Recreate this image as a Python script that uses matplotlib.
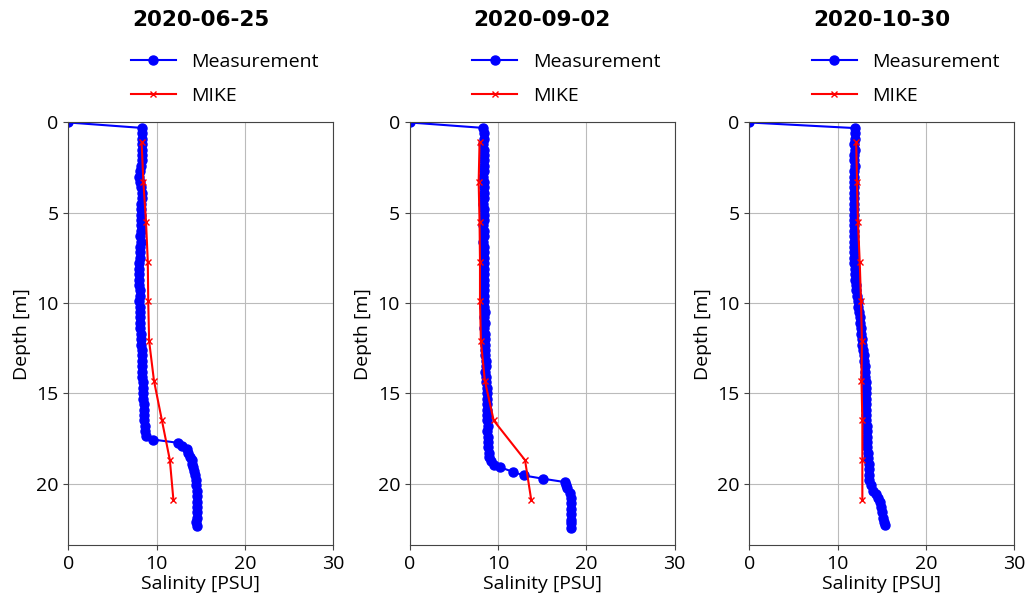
import matplotlib
matplotlib.use("Agg")
import matplotlib.pyplot as plt

plt.rcParams['font.family'] = ['Open Sans', 'DejaVu Sans']

dates = ["2020-06-25", "2020-09-02", "2020-10-30"]

# measurement profiles (depth [m], salinity [PSU])
meas_depth_1 = [0.0, 0.3, 0.6, 0.9, 1.2, 1.5, 1.8, 2.1, 2.4, 2.7, 3.0, 3.3, 3.6, 3.9, 4.2, 4.5,
                4.8, 5.1, 5.4, 5.7, 6.0, 6.3, 6.6, 6.9, 7.2, 7.5, 7.8, 8.1, 8.4, 8.7, 9.0, 9.3,
                9.6, 9.9, 10.2, 10.5, 10.8, 11.1, 11.4, 11.7, 12.0, 12.3, 12.6, 12.9, 13.2, 13.5,
                13.8, 14.1, 14.4, 14.7, 15.0, 15.3, 15.6, 15.9, 16.2, 16.5, 16.8, 17.1, 17.35,
                17.56, 17.74, 17.9, 18.1, 18.3, 18.5, 18.7, 18.9, 19.1, 19.3, 19.5, 19.8, 20.1,
                20.4, 20.7, 21.0, 21.3, 21.6, 21.9, 22.1, 22.36]
meas_sal_1 = [0.0, 8.3, 8.35, 8.3, 8.3, 8.35, 8.3, 8.3, 8.25, 8.1, 8.05, 8.1, 8.2, 8.3, 8.3, 8.25,
              8.2, 8.2, 8.25, 8.2, 8.2, 8.15, 8.2, 8.15, 8.1, 8.1, 8.0, 7.95, 8.0, 8.05, 8.05, 8.1,
              8.1, 8.05, 8.1, 8.1, 8.15, 8.1, 8.15, 8.2, 8.2, 8.25, 8.3, 8.3, 8.35, 8.35,
              8.4, 8.4, 8.45, 8.45, 8.5, 8.5, 8.55, 8.55, 8.6, 8.6, 8.65, 8.7, 8.8,
              9.6, 12.4, 12.9, 13.4, 13.6, 13.8, 13.95, 14.05, 14.15, 14.25, 14.35, 14.45, 14.5,
              14.55, 14.6, 14.6, 14.6, 14.6, 14.55, 14.5, 14.55]

meas_depth_2 = [0.0, 0.3, 0.6, 0.9, 1.2, 1.5, 1.8, 2.1, 2.4, 2.7, 3.0, 3.3, 3.6, 3.9, 4.2, 4.5,
                4.8, 5.1, 5.4, 5.7, 6.0, 6.3, 6.6, 6.9, 7.2, 7.5, 7.8, 8.1, 8.4, 8.7, 9.0, 9.3,
                9.6, 9.9, 10.2, 10.5, 10.8, 11.1, 11.4, 11.7, 12.0, 12.3, 12.6, 12.9, 13.2, 13.5,
                13.8, 14.1, 14.4, 14.7, 15.0, 15.3, 15.6, 15.9, 16.2, 16.5, 16.8, 17.1, 17.4,
                17.7, 18.0, 18.3, 18.5, 18.75, 18.95, 19.1, 19.35, 19.55, 19.73, 19.92, 20.05,
                20.23, 20.5, 20.8, 21.1, 21.4, 21.7, 22.0, 22.2, 22.45]
meas_sal_2 = [0.0, 8.3, 8.35, 8.4, 8.3, 8.35, 8.4, 8.35, 8.4, 8.35, 8.3, 8.35, 8.4, 8.4, 8.35, 8.3,
              8.35, 8.4, 8.35, 8.3, 8.35, 8.4, 8.3, 8.35, 8.4, 8.4, 8.35, 8.4, 8.45, 8.4, 8.35, 8.4,
              8.45, 8.4, 8.45, 8.5, 8.45, 8.5, 8.45, 8.5, 8.55, 8.5, 8.55, 8.5, 8.6, 8.6,
              8.55, 8.65, 8.6, 8.7, 8.7, 8.75, 8.8, 8.8, 8.75, 8.8, 8.85, 8.8, 8.85,
              8.9, 8.9, 8.95, 9.0, 9.2, 9.5, 10.25, 11.7, 12.9, 15.1, 17.6, 17.7,
              17.8, 18.1, 18.2, 18.25, 18.3, 18.3, 18.3, 18.3, 18.3]

meas_depth_3 = [0.0, 0.31, 0.6, 0.9, 1.2, 1.5, 1.8, 2.1, 2.4, 2.7, 3.0, 3.3, 3.6, 3.9, 4.2, 4.5,
                4.8, 5.1, 5.4, 5.7, 6.0, 6.3, 6.6, 6.9, 7.2, 7.5, 7.8, 8.1, 8.4, 8.7, 9.0, 9.3,
                9.6, 9.9, 10.2, 10.5, 10.8, 11.1, 11.4, 11.7, 12.0, 12.3, 12.6, 12.9, 13.2, 13.5,
                13.8, 14.1, 14.4, 14.7, 15.0, 15.3, 15.6, 15.9, 16.2, 16.5, 16.8, 17.1, 17.4,
                17.7, 18.0, 18.3, 18.6, 18.9, 19.2, 19.5, 19.8, 20.1, 20.4, 20.6, 20.8, 21.0,
                21.3, 21.6, 21.9, 22.1, 22.3]
meas_sal_3 = [0.0, 11.95, 12.0, 11.95, 11.9, 11.95, 11.9, 11.9, 11.95, 11.9, 11.9, 11.85, 11.9, 11.9, 11.85, 11.9,
              11.85, 11.9, 11.85, 11.85, 11.9, 11.85, 11.85, 11.9, 11.85, 11.9, 11.9, 11.95, 11.95, 12.0, 12.05, 12.1,
              12.2, 12.3, 12.35, 12.45, 12.5, 12.55, 12.65, 12.7, 12.75, 12.8, 12.9, 12.95, 13.0, 13.1,
              13.1, 13.15, 13.2, 13.2, 13.2, 13.25, 13.25, 13.2, 13.2, 13.25, 13.3, 13.3, 13.35,
              13.3, 13.35, 13.4, 13.45, 13.5, 13.55, 13.55, 13.6, 13.75, 14.0, 14.3, 14.6, 14.75,
              14.95, 15.05, 15.15, 15.3, 15.4]

# MIKE model output
mike_depth = [1.1, 3.3, 5.5, 7.7, 9.9, 12.1, 14.3, 16.5, 18.7, 20.9]
mike_sal_1 = [8.3, 8.5, 8.8, 9.0, 9.05, 9.15, 9.7, 10.6, 11.5, 11.9]
mike_sal_2 = [7.9, 7.8, 7.9, 7.95, 7.95, 8.05, 8.5, 9.5, 13.05, 13.75]
mike_sal_3 = [12.1, 12.2, 12.3, 12.5, 12.65, 12.75, 12.7, 12.8, 12.8, 12.8]

meas_depths = [meas_depth_1, meas_depth_2, meas_depth_3]
meas_sals = [meas_sal_1, meas_sal_2, meas_sal_3]
mike_sals = [mike_sal_1, mike_sal_2, mike_sal_3]

fig = plt.figure(figsize=(10.27, 6.01), dpi=100)
lefts = [0.0665, 0.399, 0.7296]

for k in range(3):
    ax = fig.add_axes([lefts[k], 0.0932, 0.258, 0.703])
    ax.plot(meas_sals[k], meas_depths[k], '-o', color='blue', markersize=6.5,
            linewidth=1.5, label='Measurement')
    ax.plot(mike_sals[k], mike_depth, '-x', color='red', markersize=5,
            linewidth=1.5, label='MIKE')
    ax.set_xlim(0, 30)
    ax.set_ylim(23.4, 0)
    ax.set_xticks([0, 10, 20, 30])
    ax.set_yticks([0, 5, 10, 15, 20])
    ax.tick_params(labelsize=14, color='#444444')
    ax.grid(True, color='#bbbbbb', linewidth=0.8)
    for sp in ax.spines.values():
        sp.set_color('#444444')
    ax.set_xlabel('Salinity [PSU]', fontsize=14, labelpad=2)
    ax.set_ylabel('Depth [m]', fontsize=14, labelpad=4)
    ax.text(0.5, 1.243, dates[k], transform=ax.transAxes, ha='center', va='center',
            fontsize=15.5, fontweight='bold', family='DejaVu Sans')
    ax.legend(loc='center', bbox_to_anchor=(0.591, 1.103), frameon=False,
              fontsize=14, handlelength=2.3, labelspacing=0.85)

fig.savefig('out.png', dpi=100)
